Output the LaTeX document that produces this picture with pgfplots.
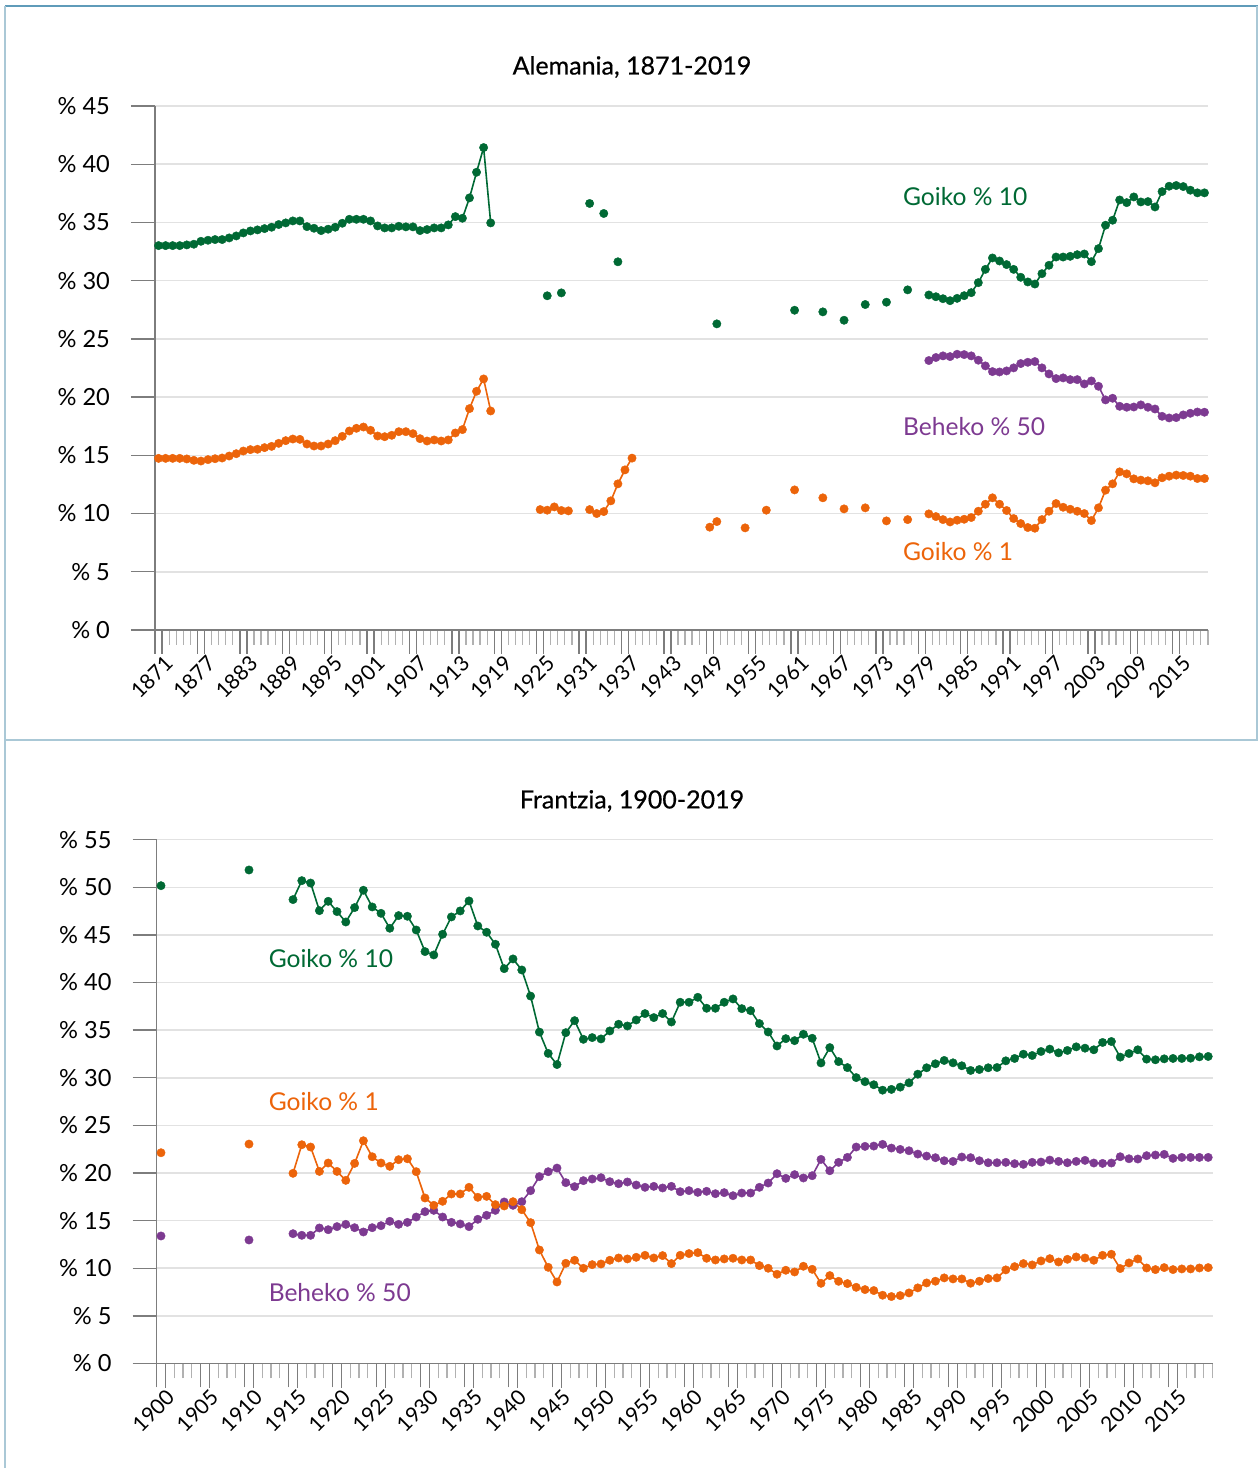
\documentclass[border=0pt]{standalone}
\usepackage{fontspec}
\setmainfont{Lato}
\newfontfamily\titlefont[FakeBold=0.6]{Lato}
\usepackage{pgfplots}
\pgfplotsset{compat=1.18}
\definecolor{cgreen}{RGB}{0,105,52}
\definecolor{corange}{RGB}{236,100,10}
\definecolor{cpurple}{RGB}{125,58,145}
\definecolor{bordA}{RGB}{95,155,185}
\definecolor{bordB}{RGB}{170,200,214}
\definecolor{gridc}{RGB}{226,226,226}
\definecolor{axc}{RGB}{125,125,125}

\pgfplotsset{
 mystyle/.style={
  scale only axis,
  axis lines=left,
  axis line style={-, draw=axc, line width=0.7pt},
  tick align=outside,
  major tick length=12pt,
  minor tick length=7.5pt,
  major tick style={draw=axc, line width=0.7pt},
  minor tick style={draw=axc!60, line width=0.6pt},
  ymajorgrids,
  major grid style={draw=gridc, line width=0.8pt},
  yticklabel style={font=\fontsize{11.8}{13}\selectfont, xshift=-7pt},
  xticklabel style={font=\fontsize{10.5}{12}\selectfont, rotate=45, anchor=north east, inner sep=1pt, xshift=4pt, yshift=-2pt},
  unbounded coords=jump,
  clip=false,
 },
 ser/.style={color=#1, mark=*, mark size=2.1pt, line width=0.8pt, mark options={draw=#1, fill=#1, line width=0.2pt}},
}
\tikzset{ltick/.style={draw=axc, line width=0.7pt}}

\begin{document}
\begin{tikzpicture}
\path[use as bounding box] (0,0) rectangle (629pt,734pt);
% panel borders
\draw[bordA, line width=0.6pt] (2.5pt,731pt) -- (629pt,731pt);
\draw[bordB, line width=0.6pt] (2.5pt,731pt) -- (2.5pt,0pt);
\draw[bordB, line width=0.6pt] (628.5pt,731pt) -- (628.5pt,364pt);
\draw[bordB, line width=0.8pt] (2.5pt,364pt) -- (629pt,364pt);

% titles
\node[font=\titlefont\fontsize{12.5}{14}\selectfont] at (316pt,700.5pt) {Alemania, 1871-2019};
\node[font=\titlefont\fontsize{12.5}{14}\selectfont] at (316pt,333.5pt) {Frantzia, 1900-2019};

% ---------------- Germany ----------------
\begin{axis}[mystyle,
  at={(77.5pt,419pt)}, anchor=south west,
  width=526.5pt, height=262pt,
  xmin=1870.5, xmax=2019.5, ymin=0, ymax=45,
  ytick={0,5,10,15,20,25,30,35,40,45},
  yticklabels={\% 0,\% 5,\% 10,\% 15,\% 20,\% 25,\% 30,\% 35,\% 40,\% 45},
  xtick={1870.5,1876.5,1882.5,1888.5,1894.5,1900.5,1906.5,1912.5,1918.5,1924.5,1930.5,1936.5,1942.5,1948.5,1954.5,1960.5,1966.5,1972.5,1978.5,1984.5,1990.5,1996.5,2002.5,2008.5,2014.5},
  xticklabels={1871,1877,1883,1889,1895,1901,1907,1913,1919,1925,1931,1937,1943,1949,1955,1961,1967,1973,1979,1985,1991,1997,2003,2009,2015},
  minor xtick={1870.5,1871.5,...,2019.5},
]
\pgfplotsinvokeforeach{1871.5,1877.5,1883.5,1889.5,1895.5,1901.5,1907.5,1913.5,1919.5,1925.5,1931.5,1937.5,1943.5,1949.5,1955.5,1961.5,1967.5,1973.5,1979.5,1985.5,1991.5,1997.5,2003.5,2009.5,2015.5}{
  \draw[ltick] (axis cs:#1,0) -- ([yshift=-12pt]axis cs:#1,0);
}
% Goiko 10
\addplot[ser=cgreen] table {
x y
1871 33.01
1872 33.01
1873 33.01
1874 33.01
1875 33.07
1876 33.13
1877 33.38
1878 33.47
1879 33.53
1880 33.53
1881 33.67
1882 33.84
1883 34.10
1884 34.27
1885 34.36
1886 34.47
1887 34.59
1888 34.82
1889 34.96
1890 35.13
1891 35.13
1892 34.64
1893 34.50
1894 34.30
1895 34.42
1896 34.59
1897 34.93
1898 35.27
1899 35.27
1900 35.27
1901 35.13
1902 34.70
1903 34.53
1904 34.53
1905 34.67
1906 34.62
1907 34.62
1908 34.30
1909 34.39
1910 34.53
1911 34.53
1912 34.79
1913 35.50
1914 35.36
1915 37.11
1916 39.31
1917 41.43
1918 34.96
1919 nan
1926 28.70
1927 nan
1928 28.95
1929 nan
1932 36.63
1933 nan
1934 35.77
1935 nan
1936 31.62
1937 nan
1950 26.29
1951 nan
1961 27.46
1962 nan
1965 27.32
1966 nan
1968 26.60
1969 nan
1971 27.95
1972 nan
1974 28.15
1975 nan
1977 29.21
1978 nan
1980 28.77
1981 28.62
1982 28.45
1983 28.28
1984 28.48
1985 28.71
1986 28.97
1987 29.83
1988 30.97
1989 31.95
1990 31.69
1991 31.38
1992 30.97
1993 30.29
1994 29.89
1995 29.71
1996 30.60
1997 31.32
1998 32.03
1999 32.03
2000 32.09
2001 32.23
2002 32.29
2003 31.63
2004 32.75
2005 34.76
2006 35.19
2007 36.93
2008 36.70
2009 37.19
2010 36.76
2011 36.79
2012 36.33
2013 37.65
2014 38.11
2015 38.17
2016 38.08
2017 37.77
2018 37.54
2019 37.54
};
% Beheko 50
\addplot[ser=cpurple] table {
x y
1980 23.14
1981 23.40
1982 23.54
1983 23.48
1984 23.68
1985 23.65
1986 23.54
1987 23.17
1988 22.68
1989 22.19
1990 22.16
1991 22.25
1992 22.51
1993 22.88
1994 22.99
1995 23.05
1996 22.51
1997 21.99
1998 21.59
1999 21.65
2000 21.50
2001 21.50
2002 21.13
2003 21.39
2004 20.93
2005 19.76
2006 19.90
2007 19.21
2008 19.13
2009 19.15
2010 19.33
2011 19.13
2012 18.98
2013 18.35
2014 18.21
2015 18.24
2016 18.47
2017 18.61
2018 18.72
2019 18.70
};
% Goiko 1
\addplot[ser=corange] table {
x y
1871 14.74
1872 14.74
1873 14.74
1874 14.74
1875 14.69
1876 14.57
1877 14.51
1878 14.63
1879 14.71
1880 14.77
1881 14.94
1882 15.14
1883 15.37
1884 15.49
1885 15.52
1886 15.66
1887 15.77
1888 16.03
1889 16.26
1890 16.40
1891 16.37
1892 15.97
1893 15.80
1894 15.80
1895 15.97
1896 16.26
1897 16.63
1898 17.09
1899 17.32
1900 17.43
1901 17.15
1902 16.66
1903 16.60
1904 16.72
1905 17.03
1906 17.03
1907 16.86
1908 16.43
1909 16.23
1910 16.32
1911 16.23
1912 16.32
1913 16.92
1914 17.21
1915 19.01
1916 20.50
1917 21.56
1918 18.81
1919 nan
1925 10.34
1926 10.29
1927 10.57
1928 10.26
1929 10.23
1930 nan
1932 10.34
1933 10.00
1934 10.17
1935 11.09
1936 12.55
1937 13.75
1938 14.76
1939 nan
1949 8.83
1950 9.31
1951 nan
1954 8.77
1955 nan
1957 10.29
1958 nan
1961 12.03
1962 nan
1965 11.35
1966 nan
1968 10.40
1969 nan
1971 10.49
1972 nan
1974 9.37
1975 nan
1977 9.48
1978 nan
1980 9.97
1981 9.74
1982 9.48
1983 9.28
1984 9.43
1985 9.51
1986 9.66
1987 10.20
1988 10.80
1989 11.35
1990 10.80
1991 10.26
1992 9.57
1993 9.14
1994 8.80
1995 8.74
1996 9.48
1997 10.20
1998 10.86
1999 10.54
2000 10.37
2001 10.20
2002 10.00
2003 9.40
2004 10.49
2005 12.01
2006 12.55
2007 13.58
2008 13.41
2009 12.98
2010 12.87
2011 12.81
2012 12.64
2013 13.07
2014 13.21
2015 13.30
2016 13.27
2017 13.21
2018 13.01
2019 13.01
};
\node[anchor=west, text=cgreen, font=\fontsize{12.3}{14}\selectfont, inner sep=0pt] at (axis cs:1976.3,37.2) {Goiko \% 10};
\node[anchor=west, text=cpurple, font=\fontsize{12.3}{14}\selectfont, inner sep=0pt] at (axis cs:1976.3,17.44) {Beheko \% 50};
\node[anchor=west, text=corange, font=\fontsize{12.3}{14}\selectfont, inner sep=0pt] at (axis cs:1976.3,6.7) {Goiko \% 1};
\end{axis}

% ---------------- France ----------------
\begin{axis}[mystyle,
  at={(78.3pt,52.25pt)}, anchor=south west,
  width=528pt, height=261.9pt,
  xmin=1899.5, xmax=2019.5, ymin=0, ymax=55,
  ytick={0,5,10,15,20,25,30,35,40,45,50,55},
  yticklabels={\% 0,\% 5,\% 10,\% 15,\% 20,\% 25,\% 30,\% 35,\% 40,\% 45,\% 50,\% 55},
  xtick={1899.5,1904.5,1909.5,1914.5,1919.5,1924.5,1929.5,1934.5,1939.5,1944.5,1949.5,1954.5,1959.5,1964.5,1969.5,1974.5,1979.5,1984.5,1989.5,1994.5,1999.5,2004.5,2009.5,2014.5},
  xticklabels={1900,1905,1910,1915,1920,1925,1930,1935,1940,1945,1950,1955,1960,1965,1970,1975,1980,1985,1990,1995,2000,2005,2010,2015},
  minor xtick={1899.5,1900.5,...,2019.5},
]
\pgfplotsinvokeforeach{1900.5,1905.5,1910.5,1915.5,1920.5,1925.5,1930.5,1935.5,1940.5,1945.5,1950.5,1955.5,1960.5,1965.5,1970.5,1975.5,1980.5,1985.5,1990.5,1995.5,2000.5,2005.5,2010.5,2015.5}{
  \draw[ltick] (axis cs:#1,0) -- ([yshift=-12pt]axis cs:#1,0);
}
% Beheko 50
\addplot[ser=cpurple] table {
x y
1900 13.39
1901 nan
1910 12.97
1911 nan
1915 13.63
1916 13.46
1917 13.46
1918 14.23
1919 14.05
1920 14.37
1921 14.61
1922 14.26
1923 13.81
1924 14.26
1925 14.47
1926 14.93
1927 14.61
1928 14.82
1929 15.38
1930 15.94
1931 16.08
1932 15.38
1933 14.82
1934 14.65
1935 14.37
1936 15.14
1937 15.56
1938 16.08
1939 16.96
1940 16.61
1941 16.99
1942 18.15
1943 19.62
1944 20.14
1945 20.52
1946 18.99
1947 18.57
1948 19.20
1949 19.37
1950 19.51
1951 19.09
1952 18.88
1953 19.06
1954 18.74
1955 18.50
1956 18.60
1957 18.43
1958 18.60
1959 18.04
1960 18.15
1961 17.97
1962 18.08
1963 17.83
1964 17.94
1965 17.62
1966 17.90
1967 17.90
1968 18.50
1969 18.95
1970 19.93
1971 19.44
1972 19.83
1973 19.48
1974 19.72
1975 21.43
1976 20.24
1977 21.12
1978 21.64
1979 22.73
1980 22.80
1981 22.83
1982 23.01
1983 22.62
1984 22.48
1985 22.34
1986 21.99
1987 21.78
1988 21.61
1989 21.29
1990 21.22
1991 21.68
1992 21.61
1993 21.29
1994 21.08
1995 21.08
1996 21.12
1997 20.98
1998 20.91
1999 21.12
2000 21.15
2001 21.36
2002 21.22
2003 21.08
2004 21.22
2005 21.33
2006 21.05
2007 21.01
2008 21.05
2009 21.71
2010 21.50
2011 21.47
2012 21.82
2013 21.89
2014 21.96
2015 21.54
2016 21.64
2017 21.64
2018 21.64
2019 21.64
};
% Goiko 1
\addplot[ser=corange] table {
x y
1900 22.13
1901 nan
1910 23.04
1911 nan
1915 19.97
1916 22.97
1917 22.73
1918 20.17
1919 21.05
1920 20.17
1921 19.23
1922 21.01
1923 23.39
1924 21.71
1925 21.05
1926 20.70
1927 21.40
1928 21.50
1929 20.14
1930 17.38
1931 16.61
1932 17.03
1933 17.80
1934 17.80
1935 18.50
1936 17.45
1937 17.55
1938 16.68
1939 16.54
1940 16.99
1941 16.15
1942 14.79
1943 11.92
1944 10.10
1945 8.56
1946 10.52
1947 10.84
1948 10.00
1949 10.38
1950 10.45
1951 10.84
1952 11.08
1953 10.98
1954 11.15
1955 11.36
1956 11.08
1957 11.33
1958 10.49
1959 11.36
1960 11.54
1961 11.64
1962 11.05
1963 10.87
1964 10.98
1965 11.05
1966 10.87
1967 10.87
1968 10.28
1969 10.00
1970 9.37
1971 9.79
1972 9.61
1973 10.21
1974 9.89
1975 8.42
1976 9.23
1977 8.63
1978 8.39
1979 8.00
1980 7.76
1981 7.66
1982 7.17
1983 7.03
1984 7.13
1985 7.41
1986 7.94
1987 8.46
1988 8.64
1989 8.99
1990 8.88
1991 8.88
1992 8.43
1993 8.64
1994 8.92
1995 8.99
1996 9.83
1997 10.17
1998 10.49
1999 10.35
2000 10.77
2001 11.01
2002 10.66
2003 10.94
2004 11.19
2005 11.08
2006 10.84
2007 11.36
2008 11.47
2009 9.97
2010 10.56
2011 10.98
2012 10.03
2013 9.86
2014 10.07
2015 9.86
2016 9.93
2017 9.93
2018 10.03
2019 10.07
};
% Goiko 10
\addplot[ser=cgreen] table {
x y
1900 50.17
1901 nan
1910 51.82
1911 nan
1915 48.71
1916 50.70
1917 50.45
1918 47.55
1919 48.53
1920 47.45
1921 46.36
1922 47.87
1923 49.69
1924 47.94
1925 47.27
1926 45.70
1927 47.03
1928 46.96
1929 45.52
1930 43.25
1931 42.90
1932 45.07
1933 46.89
1934 47.52
1935 48.57
1936 45.94
1937 45.28
1938 44.02
1939 41.46
1940 42.48
1941 41.32
1942 38.58
1943 34.80
1944 32.56
1945 31.39
1946 34.74
1947 36.00
1948 34.04
1949 34.22
1950 34.08
1951 34.92
1952 35.62
1953 35.44
1954 36.07
1955 36.74
1956 36.32
1957 36.74
1958 35.86
1959 37.93
1960 37.93
1961 38.45
1962 37.30
1963 37.30
1964 37.93
1965 38.28
1966 37.26
1967 37.05
1968 35.69
1969 34.81
1970 33.34
1971 34.11
1972 33.90
1973 34.57
1974 34.15
1975 31.56
1976 33.17
1977 31.70
1978 31.07
1979 30.02
1980 29.59
1981 29.27
1982 28.70
1983 28.78
1984 29.02
1985 29.47
1986 30.38
1987 31.05
1988 31.47
1989 31.82
1990 31.57
1991 31.26
1992 30.77
1993 30.87
1994 31.05
1995 31.08
1996 31.78
1997 32.03
1998 32.48
1999 32.34
2000 32.76
2001 33.01
2002 32.62
2003 32.87
2004 33.25
2005 33.11
2006 32.94
2007 33.71
2008 33.81
2009 32.17
2010 32.55
2011 32.94
2012 31.96
2013 31.89
2014 31.99
2015 32.03
2016 32.03
2017 32.06
2018 32.20
2019 32.24
};
\node[anchor=west, text=cgreen, font=\fontsize{12.3}{14}\selectfont, inner sep=0pt] at (axis cs:1912.2,42.5) {Goiko \% 10};
\node[anchor=west, text=corange, font=\fontsize{12.3}{14}\selectfont, inner sep=0pt] at (axis cs:1912.2,27.47) {Goiko \% 1};
\node[anchor=west, text=cpurple, font=\fontsize{12.3}{14}\selectfont, inner sep=0pt] at (axis cs:1912.2,7.4) {Beheko \% 50};
\end{axis}
\end{tikzpicture}
\end{document}
